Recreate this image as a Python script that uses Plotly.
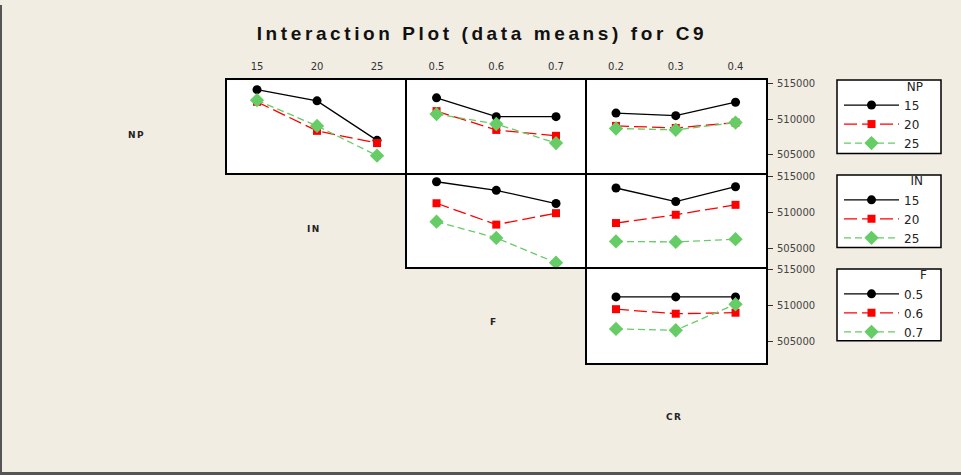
import plotly.graph_objects as go

# ---------------- data ----------------
in_levels = [15, 20, 25]
f_levels = [0.5, 0.6, 0.7]
cr_levels = [0.2, 0.3, 0.4]
in_ticktext = ["15", "20", "25"]
f_ticktext = ["0.5", "0.6", "0.7"]
cr_ticktext = ["0.2", "0.3", "0.4"]
y_tickvals = [505000, 510000, 515000]
y_ticktext = ["505000", "510000", "515000"]

np_names = ["15", "20", "25"]
in_names = ["15", "20", "25"]
f_names = ["0.5", "0.6", "0.7"]

# row 1: traces = NP levels
np_vs_in = [[514090, 512530, 507030], [512400, 508350, 506650], [512620, 509040, 504900]]
np_vs_f = [[512950, 510330, 510330], [511100, 508480, 507660], [510690, 509310, 506650]]
np_vs_cr = [[510830, 510470, 512340], [509040, 508760, 509500], [508680, 508490, 509500]]
# row 2: traces = IN levels
in_vs_f = [[514270, 513070, 511240], [511280, 508310, 509900], [508720, 506460, 503020]]
in_vs_cr = [[513400, 511520, 513580], [508530, 509680, 511060], [505970, 505910, 506280]]
# row 3: traces = F levels
f_vs_cr = [[511240, 511240, 511240], [509530, 508900, 509040], [506780, 506600, 510220]]

# ---------------- layout helpers ----------------
W, H = 961, 475
def px(x):
    return x / W
def py(y):
    return 1 - y / H

BG = "#F1EDE2"
colors = ["#000000", "#FF0000", "#66CC66"]
symbols = ["circle", "square", "diamond"]
msizes = [9, 8, 11]
dashes = ["solid", "13px,5px", "7px,4px"]

LW = 2
cols = [(227, 405), (407, 585), (587, 766)]
rows = [(76, 170), (172, 265), (267, 362)]
xranges = [[12.5, 27.33], [0.4506, 0.7485], [0.1515, 0.451]]
yranges = [[502450, 515410], [502390, 515180], [502010, 515100]]

fig = go.Figure()

panels = [
    (1, 0, 0, in_levels, np_vs_in, "legend", np_names),
    (2, 0, 1, f_levels, np_vs_f, None, np_names),
    (3, 0, 2, cr_levels, np_vs_cr, None, np_names),
    (4, 1, 1, f_levels, in_vs_f, "legend2", in_names),
    (5, 1, 2, cr_levels, in_vs_cr, None, in_names),
    (6, 2, 2, cr_levels, f_vs_cr, "legend3", f_names),
]
xticks = [(in_levels, in_ticktext), (f_levels, f_ticktext), (cr_levels, cr_ticktext)]

for idx, r, c, xv, data, leg, names in panels:
    xa = "x" if idx == 1 else f"x{idx}"
    ya = "y" if idx == 1 else f"y{idx}"
    for k in range(3):
        fig.add_trace(go.Scatter(
            x=xv, y=data[k], xaxis=xa, yaxis=ya, mode="lines+markers",
            name=names[k], showlegend=leg is not None, legend=leg if leg else "legend",
            line=dict(color=colors[k], width=1.3, dash=dashes[k]),
            marker=dict(color=colors[k], symbol=symbols[k], size=msizes[k], line=dict(width=0)),
            cliponaxis=False,
        ))
    xkey = "xaxis" if idx == 1 else f"xaxis{idx}"
    ykey = "yaxis" if idx == 1 else f"yaxis{idx}"
    tv, tt = xticks[c]
    fig.update_layout(**{
        xkey: dict(domain=[px(cols[c][0]), px(cols[c][1])], range=xranges[c], anchor=ya,
                   showline=True, mirror=True, linecolor="black", linewidth=LW,
                   showgrid=False, zeroline=False, ticks="",
                   side="top", tickvals=tv, ticktext=tt, showticklabels=(r == 0),
                   tickfont=dict(family="DejaVu Sans", size=10, color="#333"),
                   ticklabelstandoff=4),
        ykey: dict(domain=[py(rows[r][1]), py(rows[r][0])], range=yranges[r], anchor=xa,
                   showline=True, mirror=True, linecolor="black", linewidth=LW,
                   showgrid=False, zeroline=False, side="right",
                   tickvals=y_tickvals, ticktext=y_ticktext,
                   showticklabels=(c == 2), ticks="outside" if c == 2 else "",
                   ticklen=5, tickcolor="#333", tickwidth=1,
                   tickfont=dict(family="DejaVu Sans", size=10, color="#444"),
                   ticklabelstandoff=2),
    })

# diagonal factor labels
diag = [("NP", 136, 131), ("IN", 314, 226), ("F", 494, 320), ("CR", 674, 416)]
annotations = []
for t, x, y in diag:
    annotations.append(dict(text=f'<span style="letter-spacing:1.5px">{t}</span>', x=px(x), y=py(y),
                            xref="paper", yref="paper", showarrow=False,
                            xanchor="center", yanchor="middle",
                            font=dict(family="DejaVu Sans", size=9, color="#222", weight="bold")))

# legend boxes
boxes = [(837, 75.7, 941, 150), (837, 171.7, 941, 245), (837, 266.7, 941, 339.3)]
shapes = []
for x0, y0, x1, y1 in boxes:
    shapes.append(dict(type="rect", xref="paper", yref="paper", x0=px(x0), x1=px(x1), y0=py(y1), y1=py(y0),
                       fillcolor="white", line=dict(color="black", width=1.5), layer="below"))
# outer frame (left and bottom)
shapes.append(dict(type="line", xref="paper", yref="paper", x0=px(1), x1=px(1), y0=0, y1=1,
                   line=dict(color="#555", width=2)))
shapes.append(dict(type="line", xref="paper", yref="paper", x0=0, x1=1, y0=py(473.5), y1=py(473.5),
                   line=dict(color="#555", width=3)))

def legend_cfg(title, top):
    return dict(x=px(839), y=py(top), xanchor="left", yanchor="top",
                bgcolor="rgba(0,0,0,0)", borderwidth=0, itemwidth=55,
                font=dict(family="DejaVu Sans", size=12, color="#222"),
                title=dict(text=title, side="top right",
                           font=dict(family="DejaVu Sans", size=12, color="#222")),
                tracegroupgap=0)

fig.update_layout(
    width=W, height=H, margin=dict(l=0, r=0, t=0, b=0),
    paper_bgcolor=BG, plot_bgcolor="white",
    title=dict(text='<span style="letter-spacing:3.6px">Interaction Plot (data means) for C9</span>',
               x=px(482), y=py(33), xanchor="center", yanchor="middle",
               font=dict(family="Liberation Sans", size=19, color="#111", weight="bold")),
    annotations=annotations, shapes=shapes,
    legend=legend_cfg("NP", 70.7),
    legend2=legend_cfg("IN", 166.5),
    legend3=legend_cfg("F", 261.5),
)

fig.write_html("out.html", config={"displayModeBar": False},
               post_script="document.body.style.margin='0';document.body.style.overflow='hidden';")
